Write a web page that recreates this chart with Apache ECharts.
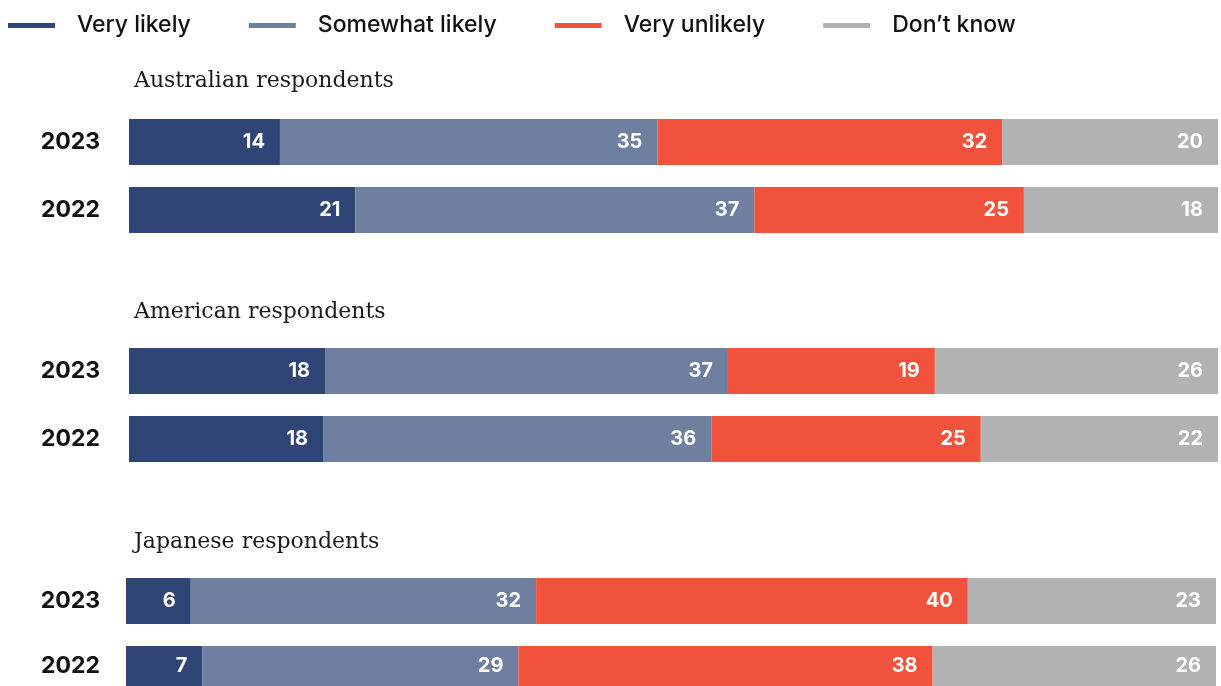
<!DOCTYPE html>
<html>
<head>
<meta charset="utf-8">
<script src="https://cdn.jsdelivr.net/npm/echarts@6/dist/echarts.min.js"></script>
<style>html,body{margin:0;padding:0;background:#fff;}#chart{width:1221px;height:686px;}</style>
</head>
<body>
<div id="chart"></div>
<script>
// Data (rows: Aus 2023, Aus 2022, US 2023, US 2022, JP 2023, JP 2022)
const groupTitles = ['Australian respondents', 'American respondents', 'Japanese respondents'];
const rowYears = ['2023', '2022', '2023', '2022', '2023', '2022'];
const seriesNames = ['Very likely', 'Somewhat likely', 'Very unlikely', 'Don\u2019t know'];
const veryLikely = [14, 21, 18, 18, 6, 7];
const somewhatLikely = [35, 37, 37, 36, 32, 29];
const veryUnlikely = [32, 25, 19, 25, 40, 38];
const dontKnow = [20, 18, 26, 22, 23, 26];

const colors = ['#2e4575', '#6f7f9f', '#f0523c', '#b2b2b2'];
const values = [veryLikely, somewhatLikely, veryUnlikely, dontKnow];

const gridTops = [119, 187, 348, 416, 578, 646];
const gridLefts = [129, 129, 129, 129, 126, 126];
const gridRights = [3, 3, 3, 3, 5, 5];
const titleTops = [70, 301, 531];

const grids = [], xAxes = [], yAxes = [], series = [];
for (let r = 0; r < rowYears.length; r++) {
  grids.push({ left: gridLefts[r], right: gridRights[r], top: gridTops[r], height: 46, containLabel: false });
  const total = values.reduce((s, arr) => s + arr[r], 0);
  xAxes.push({ type: 'value', gridIndex: r, min: 0, max: total, show: false });
  yAxes.push({
    type: 'category', gridIndex: r, data: [rowYears[r]],
    axisLine: { show: false }, axisTick: { show: false }, splitLine: { show: false },
    axisLabel: { margin: gridLefts[r] - 100, color: '#111', fontFamily: 'Inter', fontWeight: 'bold', fontSize: 23, padding: [3, 0, 0, 0] }
  });
  for (let s = 0; s < 4; s++) {
    series.push({
      name: seriesNames[s], type: 'bar', stack: 'row' + r,
      xAxisIndex: r, yAxisIndex: r, barWidth: 46,
      itemStyle: { color: colors[s] },
      label: {
        show: true, position: 'insideRight', distance: 15,
        color: '#fff', fontFamily: 'Inter', fontWeight: 'bold', fontSize: 20
      },
      emphasis: { disabled: true },
      data: [values[s][r]]
    });
  }
}

const titles = groupTitles.map((t, i) => ({
  text: t, left: 134, top: titleTops[i], padding: 0,
  textStyle: { fontFamily: 'DejaVu Serif', fontWeight: 'normal', fontSize: 22, color: '#1a1a1a' }
}));

const chart = echarts.init(document.getElementById('chart'), null, { renderer: 'canvas' });
chart.setOption({
  animation: false,
  backgroundColor: '#fff',
  title: titles,
  legend: {
    data: seriesNames.map((n, i) => ({ name: n, itemStyle: { color: colors[i] } })),
    left: 8, top: 14, padding: 0,
    icon: 'rect', itemWidth: 47, itemHeight: 5, itemGap: 58,
    selectedMode: false,
    textStyle: { fontFamily: 'Inter', fontWeight: 500, fontSize: 23, color: '#111', padding: [0, 0, 0, 17] }
  },
  grid: grids,
  xAxis: xAxes,
  yAxis: yAxes,
  series: series
});
</script>
</body>
</html>
